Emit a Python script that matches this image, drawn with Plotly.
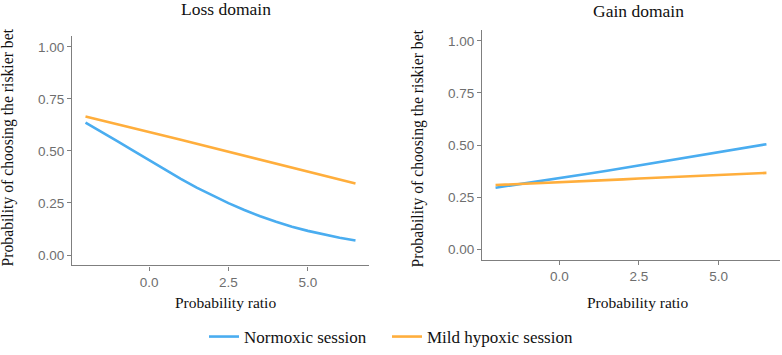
import plotly.graph_objects as go

# ---- data ----
prob_ratio = [-2, -1.5, -1, -0.5, 0, 0.5, 1, 1.5, 2, 2.5, 3, 3.5, 4, 4.5, 5, 5.5, 6, 6.5]

loss_normoxic = [0.636, 0.593, 0.547, 0.501, 0.455, 0.410, 0.366, 0.324, 0.285, 0.249,
                 0.216, 0.186, 0.160, 0.136, 0.116, 0.098, 0.083, 0.070]
loss_hypoxic = [0.665, 0.647, 0.629, 0.611, 0.592, 0.573, 0.554, 0.534, 0.515, 0.495,
                0.475, 0.456, 0.436, 0.417, 0.398, 0.379, 0.361, 0.343]
gain_normoxic = [0.295, 0.306, 0.317, 0.329, 0.340, 0.352, 0.364, 0.376, 0.389, 0.401,
                 0.414, 0.426, 0.439, 0.452, 0.465, 0.478, 0.491, 0.504]
gain_hypoxic = [0.308, 0.311, 0.315, 0.318, 0.322, 0.325, 0.328, 0.332, 0.335, 0.339,
                0.342, 0.345, 0.349, 0.352, 0.356, 0.359, 0.362, 0.366]

series_names = ["Normoxic session", "Mild hypoxic session"]
panel_titles = ["Loss domain", "Gain domain"]
y_title = "Probability of choosing the riskier bet"
x_title = "Probability ratio"
x_ticks = [0.0, 2.5, 5.0]
x_tick_labels = ["0.0", "2.5", "5.0"]
y_ticks = [0.0, 0.25, 0.5, 0.75, 1.0]
y_tick_labels = ["0.00", "0.25", "0.50", "0.75", "1.00"]

BLUE = "#4AADF0"
ORANGE = "#FFAE3C"
W, H = 782, 355
SERIF = "Liberation Serif, Times New Roman, serif"
SANS = "Liberation Sans, Arial, sans-serif"

def px_x(p):
    return p / W

def px_y(p):
    return 1 - p / H

fig = go.Figure()

fig.add_trace(go.Scatter(x=prob_ratio, y=loss_normoxic, mode="lines", name=series_names[0],
                         line=dict(color=BLUE, width=2.6), xaxis="x", yaxis="y",
                         legendgroup="n", legend="legend"))
fig.add_trace(go.Scatter(x=prob_ratio, y=loss_hypoxic, mode="lines", name=series_names[1],
                         line=dict(color=ORANGE, width=2.6), xaxis="x", yaxis="y",
                         legendgroup="h", legend="legend2"))
fig.add_trace(go.Scatter(x=prob_ratio, y=gain_normoxic, mode="lines", name=series_names[0],
                         line=dict(color=BLUE, width=2.6), xaxis="x2", yaxis="y2",
                         legendgroup="n", showlegend=False))
fig.add_trace(go.Scatter(x=prob_ratio, y=gain_hypoxic, mode="lines", name=series_names[1],
                         line=dict(color=ORANGE, width=2.6), xaxis="x2", yaxis="y2",
                         legendgroup="h", showlegend=False))

axis_common = dict(showgrid=False, zeroline=False, showline=True, linecolor="#7f7f7f",
                   linewidth=1.2, ticks="outside", ticklen=4, tickcolor="#7f7f7f",
                   tickwidth=1.2, tickfont=dict(family=SANS, size=13.5, color="#6e6e6e"))

xr = [-2.425, 6.925]
yr = [-0.05, 1.05]

legend_common = dict(orientation="h", xanchor="left", yanchor="middle",
                     font=dict(family=SERIF, size=17, color="#111111"), itemwidth=30,
                     bgcolor="rgba(0,0,0,0)")

fig.update_layout(
    width=W, height=H,
    margin=dict(l=0, r=0, t=0, b=0),
    paper_bgcolor="white", plot_bgcolor="white",
    xaxis=dict(domain=[px_x(72), px_x(369)], range=xr, tickvals=x_ticks, ticktext=x_tick_labels,
               anchor="y", **axis_common),
    yaxis=dict(domain=[px_y(270), px_y(37)], range=yr, tickvals=y_ticks, ticktext=y_tick_labels,
               anchor="x", **axis_common),
    xaxis2=dict(domain=[px_x(482), px_x(780)], range=xr, tickvals=x_ticks, ticktext=x_tick_labels,
                anchor="y2", **axis_common),
    yaxis2=dict(domain=[px_y(264), px_y(31)], range=yr, tickvals=y_ticks, ticktext=y_tick_labels,
                anchor="x2", **axis_common),
    showlegend=True,
    legend=dict(x=px_x(204), y=px_y(343), **legend_common),
    legend2=dict(x=px_x(387), y=px_y(343), **legend_common),
)

annotations = [
    dict(text=panel_titles[0], x=px_x(226), y=px_y(9), font=dict(family=SERIF, size=17.5, color="#111111")),
    dict(text=panel_titles[1], x=px_x(638), y=px_y(11), font=dict(family=SERIF, size=17.5, color="#111111")),
    dict(text=y_title, x=px_x(8), y=px_y(150), textangle=-90, font=dict(family=SERIF, size=15.7, color="#111111")),
    dict(text=y_title, x=px_x(418), y=px_y(151), textangle=-90, font=dict(family=SERIF, size=15.7, color="#111111")),
    dict(text=x_title, x=px_x(225), y=px_y(308), font=dict(family=SERIF, size=15.5, color="#111111")),
    dict(text=x_title, x=px_x(637), y=px_y(308), font=dict(family=SERIF, size=15.5, color="#111111")),
]
for a in annotations:
    a.update(xref="paper", yref="paper", xanchor="center", yanchor="middle", showarrow=False)
fig.update_layout(annotations=annotations)

# remove the browser's default 8px page margin so the figure sits at (0, 0)
fig.write_html("out.html", config={"displayModeBar": False},
               post_script="document.body.style.margin='0';")
